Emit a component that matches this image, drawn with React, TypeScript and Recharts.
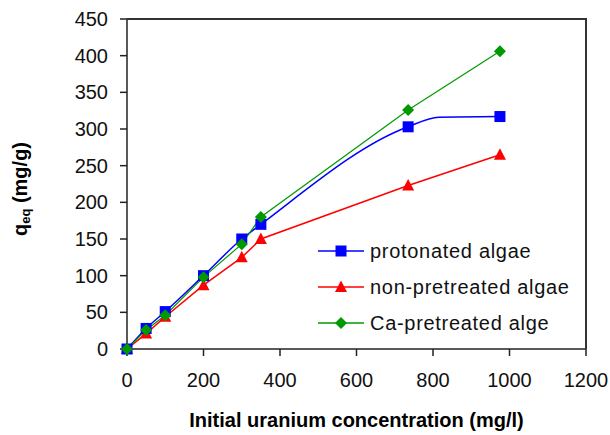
import React from "react";
import {
  LineChart,
  Line,
  XAxis,
  YAxis,
  Label,
} from "recharts";

// initial uranium concentration (mg/l)
const concentration = [0, 50, 100, 200, 300, 350, 735, 975];
// uptake q_eq (mg/g)
const protonated = [0, 28, 51, 100, 150, 170, 303, 317];
const nonPretreated = [0, 21, 44, 87, 125, 150, 223, 265];
const caPretreated = [0, 26, 46, 98, 143, 180, 326, 406];
// unmarked point where the protonated curve levels off
const protonatedBendX = [815];
const protonatedBendY = [316];

const xTicks = [0, 200, 400, 600, 800, 1000, 1200];
const yTicks = [0, 50, 100, 150, 200, 250, 300, 350, 400, 450];

const FONT = "'Liberation Sans', Arial, sans-serif";
const AXIS = "#222";

const BLUE = "#0000FF";
const RED = "#FF0000";
const GREEN = "#009900";

const W = 610;
const H = 435;
const MARGIN = { top: 19, right: 24, left: 0, bottom: 0 };
const Y_AXIS_W = 127;
const X_AXIS_H = 86;

type Pt = { x: number; y: number; marked: boolean };

const toPoints = (ys: number[]): Pt[] =>
  concentration.map((x, i) => ({ x, y: ys[i], marked: true }));

const protonatedData: Pt[] = [
  ...toPoints(protonated),
  ...protonatedBendX.map((x, i) => ({ x, y: protonatedBendY[i], marked: false })),
].sort((a, b) => a.x - b.x);
const nonPretreatedData = toPoints(nonPretreated);
const caPretreatedData = toPoints(caPretreated);

function marker(kind: string, cx: number, cy: number, color: string, key?: React.Key) {
  if (kind === "square") {
    return <rect key={key} x={cx - 5.5} y={cy - 5.5} width={11} height={11} fill={color} />;
  }
  if (kind === "triangle") {
    return (
      <polygon
        key={key}
        points={`${cx},${cy - 6.5} ${cx - 6},${cy + 5} ${cx + 6},${cy + 5}`}
        fill={color}
      />
    );
  }
  return (
    <polygon
      key={key}
      points={`${cx},${cy - 6} ${cx + 6},${cy} ${cx},${cy + 6} ${cx - 6},${cy}`}
      fill={color}
    />
  );
}

const dotFor = (kind: string, color: string) => (props: any) => {
  const { cx, cy, index, payload } = props;
  if (!payload?.marked || cx == null || cy == null) return <g key={`d-${kind}-${index}`} />;
  return marker(kind, cx, cy, color, `d-${kind}-${index}`);
};

const legendItems = [
  { name: "protonated algae", kind: "square", color: BLUE },
  { name: "non-pretreated algae", kind: "triangle", color: RED },
  { name: "Ca-pretreated alge", kind: "diamond", color: GREEN },
];

function LegendBox() {
  return (
    <div style={{ position: "absolute", left: 318, top: 233, zIndex: 2 }}>
      {legendItems.map((item) => (
        <div
          key={item.name}
          style={{ display: "flex", alignItems: "center", height: 36 }}
        >
          <svg width={46} height={16}>
            <line x1={0} y1={8} x2={46} y2={8} stroke={item.color} strokeWidth={1.5} />
            {marker(item.kind, 23, 8, item.color)}
          </svg>
          <span
            style={{
              marginLeft: 6,
              fontFamily: FONT,
              fontSize: 20,
              letterSpacing: 0.7,
              color: "#111",
              whiteSpace: "nowrap",
            }}
          >
            {item.name}
          </span>
        </div>
      ))}
    </div>
  );
}

function YLabel({ viewBox }: any) {
  const cx = viewBox.x + 20;
  const cy = viewBox.y + viewBox.height / 2 + 5;
  return (
    <text
      x={cx}
      y={cy}
      transform={`rotate(-90 ${cx} ${cy})`}
      textAnchor="middle"
      dominantBaseline="central"
      fontFamily={FONT}
      fontWeight="bold"
      fontSize={20}
      fill="#000"
    >
      <tspan>q</tspan>
      <tspan fontSize={13} dy={5}>eq</tspan>
      <tspan dy={-5}> (mg/g)</tspan>
    </text>
  );
}

// top and right edges of the plot area, laid over the chart
function PlotFrame() {
  const left = MARGIN.left + Y_AXIS_W;
  const top = MARGIN.top;
  const right = W - MARGIN.right;
  const bottom = H - MARGIN.bottom - X_AXIS_H;
  return (
    <svg
      width={W}
      height={H}
      style={{ position: "absolute", left: 0, top: 0, zIndex: 1, pointerEvents: "none" }}
    >
      <polyline
        points={`${left},${top} ${right},${top} ${right},${bottom}`}
        fill="none"
        stroke="#333"
        strokeWidth={2}
      />
    </svg>
  );
}

export default function App() {
  const tickStyle = { fontFamily: FONT, fontSize: 20, fill: "#111" };
  return (
    <div style={{ position: "absolute", left: 0, top: 0, width: W, height: H, background: "#fff" }}>
      <LineChart width={W} height={H} margin={MARGIN}>
        <XAxis
          type="number"
          dataKey="x"
          domain={[0, 1200]}
          ticks={xTicks}
          interval={0}
          height={X_AXIS_H}
          tickSize={7}
          tickMargin={17}
          tick={tickStyle}
          axisLine={{ stroke: AXIS, strokeWidth: 1.5 }}
          tickLine={{ stroke: AXIS, strokeWidth: 1.5 }}
          allowDuplicatedCategory={false}
        >
          <Label
            value="Initial uranium concentration (mg/l)"
            position="insideBottom"
            offset={8}
            style={{ fontFamily: FONT, fontWeight: "bold", fontSize: 20, fill: "#000" }}
          />
        </XAxis>
        <YAxis
          type="number"
          domain={[0, 450]}
          ticks={yTicks}
          interval={0}
          width={Y_AXIS_W}
          tickSize={7}
          tickMargin={12}
          tick={tickStyle}
          axisLine={{ stroke: AXIS, strokeWidth: 1.5 }}
          tickLine={{ stroke: AXIS, strokeWidth: 1.5 }}
        >
          <Label content={YLabel} />
        </YAxis>
        <Line
          data={nonPretreatedData}
          dataKey="y"
          name="non-pretreated algae"
          type="linear"
          stroke={RED}
          strokeWidth={1.5}
          dot={dotFor("triangle", RED)}
          activeDot={false}
          isAnimationActive={false}
        />
        <Line
          data={protonatedData}
          dataKey="y"
          name="protonated algae"
          type="monotone"
          stroke={BLUE}
          strokeWidth={1.5}
          dot={dotFor("square", BLUE)}
          activeDot={false}
          isAnimationActive={false}
        />
        <Line
          data={caPretreatedData}
          dataKey="y"
          name="Ca-pretreated alge"
          type="linear"
          stroke={GREEN}
          strokeWidth={1.2}
          dot={dotFor("diamond", GREEN)}
          activeDot={false}
          isAnimationActive={false}
        />
      </LineChart>
      <PlotFrame />
      <LegendBox />
    </div>
  );
}
